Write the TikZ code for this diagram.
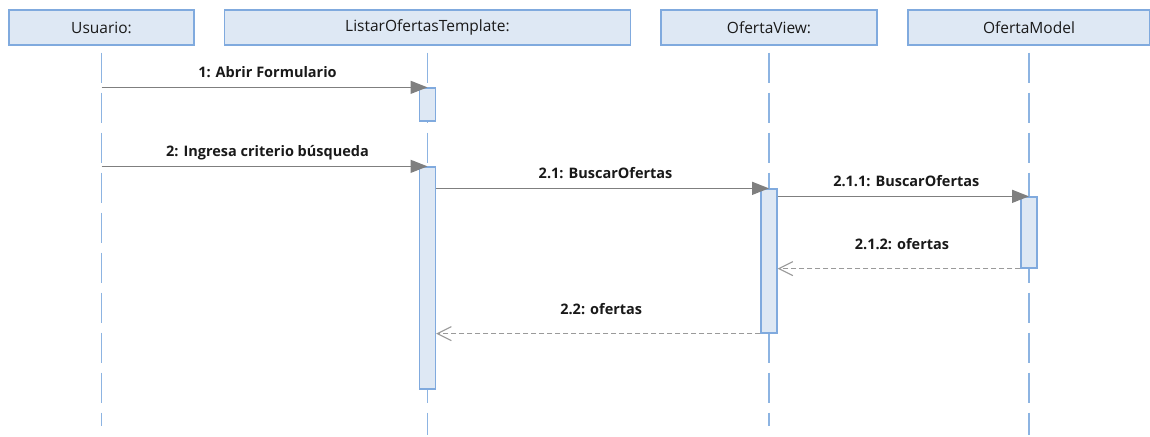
\documentclass[tikz,border=0pt]{standalone}
\usepackage{fontspec}
\setmainfont{Open Sans}
\usetikzlibrary{arrows.meta}
\definecolor{hdrfill}{HTML}{DEE8F4}
\definecolor{hdrdraw}{HTML}{80AADE}
\definecolor{lifec}{HTML}{8DB4E2}
\definecolor{msgc}{HTML}{7F7F7F}
\definecolor{retc}{HTML}{9A9A9A}
\begin{document}
\begin{tikzpicture}[x=1pt,y=-1pt,
  hdr/.style={draw=hdrdraw, fill=hdrfill, line width=1.4pt, minimum height=35pt, inner sep=0pt, font=\fontsize{15.5}{17}\selectfont, text=black!90},
  life/.style={draw=lifec, line width=1.2pt, dash pattern=on 30pt off 10pt, dash phase=33pt},
  act/.style={draw=hdrdraw, fill=hdrfill, line width=1.3pt, minimum width=16pt, inner sep=0pt},
  msg/.style={draw=msgc, line width=1.4pt, -{Triangle[length=17pt,width=13pt]}},
  ret/.style={draw=retc, line width=1.1pt, dash pattern=on 5pt off 3pt, -{Straight Barb[length=14pt,width=14pt,line width=1.1pt]}},
  lbl/.style={font=\fontsize{14.5}{16}\selectfont\bfseries, text=black!90, inner sep=0pt, anchor=base, yshift=10pt, xshift=3pt},
  rlbl/.style={lbl, yshift=9pt}
]
\useasboundingbox (0,0) rectangle (1150,436);

% headers
\node[hdr, minimum width=185pt] (hU) at (101.5,27.5) {Usuario:};
\node[hdr, minimum width=406pt] (hL) at (427.5,27.5) {ListarOfertasTemplate:};
\node[hdr, minimum width=216pt] (hV) at (769,27.5) {OfertaView:};
\node[hdr, minimum width=242pt] (hM) at (1029,27.5) {OfertaModel};

% lifeline ends
\coordinate (eU) at (101.5,426);
\coordinate (eL) at (427.5,435);
\coordinate (eV) at (769,426);
\coordinate (eM) at (1029,435);

\draw[life] (hU.south) -- (eU);
\draw[life] (hL.south) -- (eL);
\draw[life] (hV.south) -- (eV);
\draw[life] (hM.south) -- (eM);

% activations
\node[act, minimum height=33pt] (a1) at (427.5,104.5) {};
\node[act, minimum height=222pt] (a2) at (427.5,278) {};
\node[act, minimum height=144pt] (a3) at (769,261) {};
\node[act, minimum height=71pt] (a4) at (1029,232.5) {};

% messages
\draw[msg] (hU.south |- a1.north) -- (hL.south |- a1.north)
  node[lbl, midway] {1: Abrir Formulario};
\draw[msg] (hU.south |- a2.north) -- (hL.south |- a2.north)
  node[lbl, midway] {2: Ingresa criterio búsqueda};
\draw[msg] (a2.east |- a3.north) -- (hV.south |- a3.north)
  node[lbl, midway] {2.1: BuscarOfertas};
\draw[msg] (a3.east |- a4.north) -- (hM.south |- a4.north)
  node[lbl, midway] {2.1.1: BuscarOfertas};
\draw[ret] (a4.south west) -- (a3.east |- a4.south)
  node[rlbl, midway] {2.1.2: ofertas};
\draw[ret] (a3.south west) -- (a2.east |- a3.south)
  node[rlbl, midway] {2.2: ofertas};
\end{tikzpicture}
\end{document}
